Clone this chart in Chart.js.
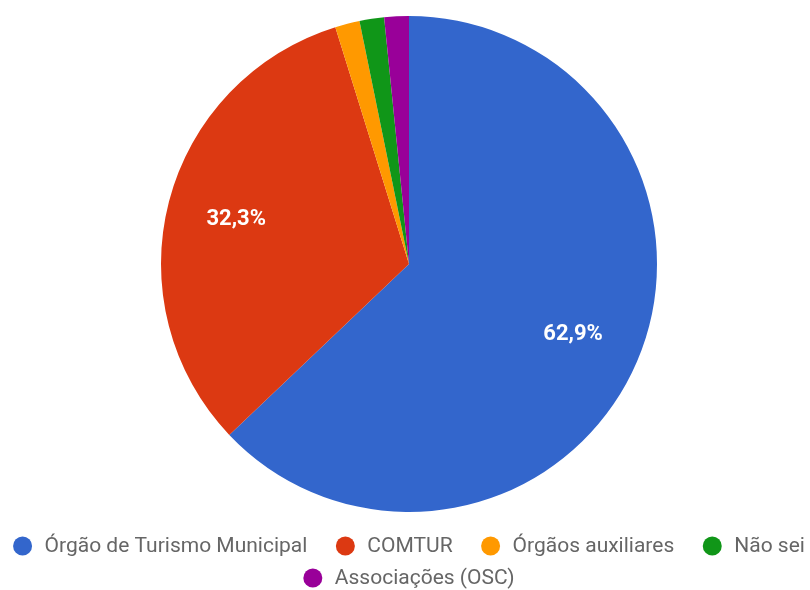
<!DOCTYPE html>
<html lang="pt-BR">
<head>
<meta charset="utf-8">
<title>Órgão responsável pelo turismo</title>
<script src="https://cdn.jsdelivr.net/npm/chart.js@4/dist/chart.umd.min.js"></script>
<style>
  html, body { margin: 0; padding: 0; background: #ffffff; overflow: hidden; }
  #wrap { position: absolute; left: 0; top: 0; width: 818px; height: 590px; }
</style>
</head>
<body>
<div id="wrap"><canvas id="pie" width="818" height="590"></canvas></div>
<script>
// Respostas: qual órgão é responsável pela gestão do turismo
const categories = [
  'Órgão de Turismo Municipal',
  'COMTUR',
  'Órgãos auxiliares',
  'Não sei',
  'Associações (OSC)'
];
const shares = [62.9, 32.3, 1.6, 1.6, 1.6];
const sliceColors = ['#3366cc', '#dc3912', '#ff9900', '#109618', '#990099'];

const fmt = v => v.toFixed(1).replace('.', ',') + '%';

// Percent labels inside the larger slices
const sliceLabels = {
  id: 'sliceLabels',
  afterDatasetsDraw(chart) {
    const ctx = chart.ctx;
    const meta = chart.getDatasetMeta(0);
    const data = chart.data.datasets[0].data;
    const total = data.reduce((a, b) => a + b, 0);
    ctx.save();
    ctx.font = 'bold 22px Roboto, "Noto Sans", sans-serif';
    ctx.fillStyle = '#ffffff';
    ctx.textAlign = 'center';
    ctx.textBaseline = 'middle';
    meta.data.forEach((arc, i) => {
      if (data[i] / total < 0.05) return;
      const p = arc.getProps(['x', 'y', 'startAngle', 'endAngle', 'outerRadius'], true);
      const mid = (p.startAngle + p.endAngle) / 2;
      const r = p.outerRadius * 0.72;
      ctx.fillText(fmt(data[i]), p.x + Math.cos(mid) * r, p.y + Math.sin(mid) * r);
    });
    ctx.restore();
  }
};

// Legend with round markers, wrapped and centred under the pie
const dotLegend = {
  id: 'dotLegend',
  afterDraw(chart) {
    const ctx = chart.ctx;
    const labels = chart.data.labels;
    const colors = chart.data.datasets[0].backgroundColor;
    const dotR = 9.5, dotToText = 22, itemGap = 38 - dotR, rowH = 32, firstRowY = 546;
    ctx.save();
    ctx.font = '21px Roboto, "Noto Sans", sans-serif';
    const items = labels.map((t, i) => ({
      text: t, color: colors[i],
      w: (dotToText - dotR) + dotR * 2 + ctx.measureText(t).width
    }));
    const rows = [[]];
    let rowW = 0;
    const maxW = chart.width;
    items.forEach(it => {
      const cur = rows[rows.length - 1];
      const add = (cur.length ? itemGap : 0) + it.w;
      if (cur.length && rowW + add > maxW) {
        rows.push([it]);
        rowW = it.w;
      } else {
        cur.push(it);
        rowW += add;
      }
    });
    ctx.textBaseline = 'middle';
    ctx.textAlign = 'left';
    rows.forEach((row, ri) => {
      const width = row.reduce((s, it, k) => s + it.w + (k ? itemGap : 0), 0);
      let x = (chart.width - width) / 2;
      const y = firstRowY + ri * rowH;
      row.forEach(it => {
        ctx.beginPath();
        ctx.fillStyle = it.color;
        ctx.arc(x + dotR, y, dotR, 0, Math.PI * 2);
        ctx.fill();
        ctx.fillStyle = '#666666';
        ctx.fillText(it.text, x + dotR + dotToText, y + 1);
        x += it.w + itemGap;
      });
    });
    ctx.restore();
  }
};

new Chart(document.getElementById('pie'), {
  type: 'pie',
  data: {
    labels: categories,
    datasets: [{
      data: shares,
      backgroundColor: sliceColors,
      borderWidth: 0
    }]
  },
  options: {
    responsive: false,
    animation: false,
    events: [],
    layout: { padding: { top: 16, bottom: 78, left: 0, right: 0 } },
    plugins: {
      legend: { display: false },
      tooltip: { enabled: false }
    }
  },
  plugins: [sliceLabels, dotLegend]
});
</script>
</body>
</html>
